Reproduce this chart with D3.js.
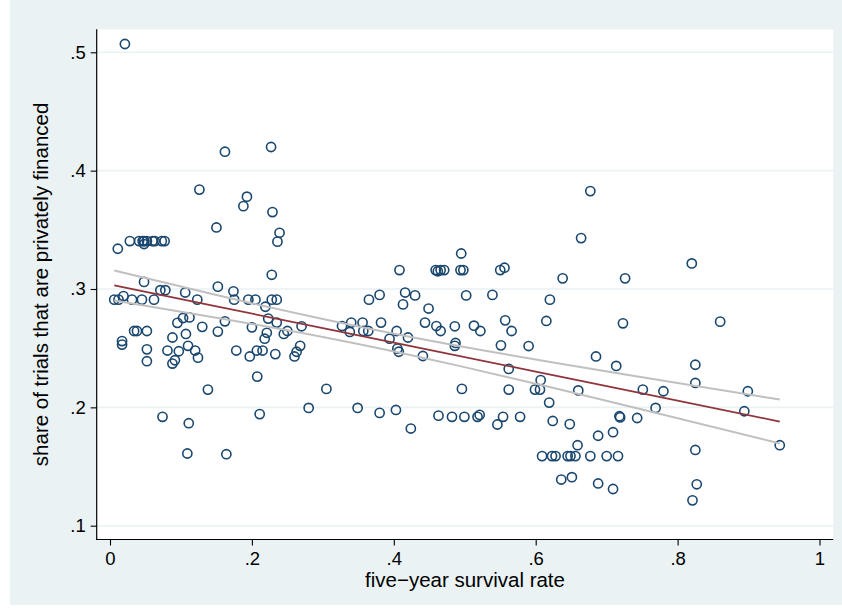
<!DOCTYPE html>
<html><head><meta charset="utf-8">
<script src="https://cdn.jsdelivr.net/npm/d3@7/dist/d3.min.js"></script>
<style>html,body{margin:0;padding:0;background:#fff;}svg{display:block;}</style>
</head><body>
<svg id="chart" width="842" height="615"></svg>
<script>
// five-year survival rate (x) for each point
const survival = [
0.021,0.162,0.227,0.126,0.193,0.188,0.229,0.150,0.239,0.236,0.011,
0.028,0.041,0.046,0.048,0.048,0.052,0.060,0.063,0.073,0.077,
0.228,0.048,0.152,0.071,0.078,0.106,0.174,0.006,0.012,0.019,0.031,0.045,0.062,0.123,0.175,0.195,0.205,0.228,0.235,
0.219,0.223,0.235,0.162,0.112,0.103,0.095,0.130,0.152,0.200,0.221,0.218,0.245,0.250,0.270,0.327,
0.034,0.038,0.052,0.107,0.088,0.017,0.017,0.110,0.052,0.081,0.097,0.120,0.124,0.178,0.207,0.215,0.197,0.233,
0.268,0.263,0.260,0.052,0.088,0.0915,0.2075,0.138,0.305,0.074,0.111,0.211,0.280,0.109,0.164,
0.664,0.495,0.408,0.459,0.462,0.466,0.471,0.494,0.498,0.550,0.556,0.638,
0.416,0.380,0.430,0.365,0.502,0.539,0.620,0.413,0.449,0.557,0.615,
0.340,0.338,0.356,0.357,0.364,0.382,0.404,0.394,0.420,0.444,0.460,0.466,0.486,0.513,0.522,0.566,
0.405,0.407,0.487,0.486,0.441,0.551,0.590,
0.349,0.380,0.403,0.424,0.496,0.463,0.482,0.4995,0.518,0.521,0.546,0.554,0.578,
0.562,0.562,0.599,0.606,0.607,0.619,0.624,0.648,0.660,0.659,
0.609,0.623,0.628,0.645,0.649,0.656,0.677,0.700,0.716,0.636,0.651,
0.677,0.726,0.820,0.723,0.860,0.685,0.7135,0.825,0.825,0.899,0.751,0.780,0.769,0.894,
0.718,0.719,0.743,0.688,0.709,0.944,0.825,0.688,0.709,0.827,0.821
];
// share of trials that are privately financed (y)
const privateShare = [
0.507,0.416,0.420,0.384,0.378,0.370,0.365,0.352,0.3475,0.340,0.334,
0.3405,0.3405,0.3405,0.3405,0.338,0.3405,0.3405,0.3405,0.3405,0.3405,
0.312,0.306,0.302,0.299,0.299,0.297,0.298,0.291,0.291,0.294,0.291,0.291,0.291,0.291,0.291,0.291,0.291,0.291,0.291,
0.285,0.275,0.2716,0.2727,0.276,0.2755,0.2714,0.268,0.264,0.2676,0.263,0.258,0.262,0.2645,0.2685,0.2687,
0.2645,0.2645,0.2645,0.262,0.259,0.256,0.253,0.252,0.249,0.248,0.2474,0.248,0.242,0.248,0.248,0.248,0.243,0.245,
0.252,0.247,0.243,0.239,0.237,0.2398,0.226,0.215,0.2156,0.192,0.1866,0.1943,0.1995,0.161,0.1604,
0.343,0.330,0.316,0.316,0.315,0.316,0.316,0.316,0.316,0.316,0.318,0.309,
0.297,0.295,0.2946,0.291,0.2946,0.295,0.291,0.287,0.2835,0.2735,0.273,
0.2716,0.2637,0.2716,0.2645,0.2645,0.2716,0.2645,0.258,0.259,0.2716,0.2687,0.2645,0.2685,0.269,0.2645,0.2645,
0.2496,0.247,0.2544,0.252,0.2434,0.2524,0.2518,
0.1995,0.1953,0.1978,0.1821,0.2156,0.193,0.192,0.192,0.192,0.1936,0.1855,0.192,0.192,
0.2325,0.215,0.215,0.215,0.223,0.204,0.1885,0.1858,0.2143,0.168,
0.1588,0.1588,0.1588,0.1588,0.1588,0.1588,0.1588,0.1588,0.1588,0.139,0.141,
0.3827,0.309,0.3216,0.271,0.2724,0.243,0.235,0.236,0.2206,0.2136,0.215,0.2136,0.1995,0.1967,
0.1925,0.1915,0.191,0.176,0.179,0.168,0.164,0.1357,0.131,0.135,0.1214
];
// fitted line and 95% CI
const fitX  = [0.006, 0.15, 0.3, 0.45, 0.6, 0.75, 0.944];
const fitY  = [0.303, 0.2853, 0.2670, 0.2486, 0.2302, 0.2118, 0.1880];
const ciHi  = [0.3157, 0.2949, 0.2747, 0.2565, 0.2404, 0.2254, 0.2066];
const ciLo  = [0.2903, 0.2757, 0.2594, 0.2407, 0.2200, 0.1982, 0.1695];
const xTicks = [0, 0.2, 0.4, 0.6, 0.8, 1];
const xTickLabels = ["0", ".2", ".4", ".6", ".8", "1"];
const yTicks = [0.1, 0.2, 0.3, 0.4, 0.5];
const yTickLabels = [".1", ".2", ".3", ".4", ".5"];
const xTitle = "five\u2212year survival rate";
const yTitle = "share of trials that are privately financed";

const svg = d3.select("#chart");
const W = 842, H = 615;
const plot = {left: 96.7, right: 833.3, top: 29.3, bottom: 539.5};
const font = "'Liberation Sans', Arial, Helvetica, sans-serif";

// graph region background
svg.append("rect").attr("x", 0).attr("y", 0).attr("width", W).attr("height", H).attr("fill", "#ffffff");
svg.append("rect").attr("x", 10).attr("y", 0).attr("width", W - 10).attr("height", 605).attr("fill", "#eaf2f3");
// plot region
svg.append("rect").attr("x", plot.left).attr("y", plot.top)
  .attr("width", plot.right - plot.left).attr("height", plot.bottom - plot.top).attr("fill", "#ffffff");

const x = d3.scaleLinear().domain([0, 1]).range([110, 819.5]);
const y = d3.scaleLinear().domain([0.1, 0.5]).range([525.7, 52.3]);

// gridlines
svg.append("g").selectAll("line").data(yTicks).join("line")
  .attr("x1", plot.left).attr("x2", plot.right)
  .attr("y1", d => y(d)).attr("y2", d => y(d))
  .attr("stroke", "#eaf2f3").attr("stroke-width", 1.6);

// axes
const yAxis = d3.axisLeft(y).tickValues(yTicks).tickFormat((d, i) => yTickLabels[i]).tickSize(6).tickPadding(5);
const gy = svg.append("g").attr("transform", `translate(${plot.left},0)`).call(yAxis);
gy.select(".domain").remove();
gy.append("line").attr("x1", 0).attr("x2", 0).attr("y1", plot.top).attr("y2", plot.bottom + 0.5)
  .attr("stroke", "#000").attr("stroke-width", 1.2);
gy.selectAll(".tick line").attr("stroke", "#000").attr("stroke-width", 1.1);
gy.selectAll(".tick text").attr("font-family", font).attr("font-size", 18.5).attr("fill", "#000");

const xAxis = d3.axisBottom(x).tickValues(xTicks).tickFormat((d, i) => xTickLabels[i]).tickSize(6).tickPadding(6);
const gx = svg.append("g").attr("transform", `translate(0,${plot.bottom})`).call(xAxis);
gx.select(".domain").remove();
gx.append("line").attr("x1", plot.left - 0.5).attr("x2", plot.right).attr("y1", 0).attr("y2", 0)
  .attr("stroke", "#000").attr("stroke-width", 1.2);
gx.selectAll(".tick line").attr("stroke", "#000").attr("stroke-width", 1.1);
gx.selectAll(".tick text").attr("font-family", font).attr("font-size", 18.5).attr("fill", "#000");

// titles
svg.append("text").attr("x", (plot.left + plot.right) / 2).attr("y", 587)
  .attr("text-anchor", "middle").attr("font-family", font).attr("font-size", 20.5).attr("fill", "#000").text(xTitle);
svg.append("text").attr("transform", `translate(48,${(plot.top + plot.bottom) / 2}) rotate(-90)`)
  .attr("text-anchor", "middle").attr("font-family", font).attr("font-size", 20.5).attr("fill", "#000").text(yTitle);

// points
const pts = survival.map((v, i) => ({x: v, y: privateShare[i]}));
svg.append("g").selectAll("circle").data(pts).join("circle")
  .attr("cx", d => x(d.x)).attr("cy", d => y(d.y)).attr("r", 4.6)
  .attr("fill", "none").attr("stroke", "#1a476f").attr("stroke-width", 1.6);

// CI and fitted line
const ciLine = d3.line().x((d, i) => x(fitX[i])).y(d => y(d)).curve(d3.curveNatural);
svg.append("path").attr("d", ciLine(ciHi)).attr("fill", "none").attr("stroke", "#c0c0c0").attr("stroke-width", 2);
svg.append("path").attr("d", ciLine(ciLo)).attr("fill", "none").attr("stroke", "#c0c0c0").attr("stroke-width", 2);
const fitLine = d3.line().x((d, i) => x(fitX[i])).y(d => y(d));
svg.append("path").attr("d", fitLine(fitY)).attr("fill", "none").attr("stroke", "#90353b").attr("stroke-width", 1.8);
</script>
</body></html>
